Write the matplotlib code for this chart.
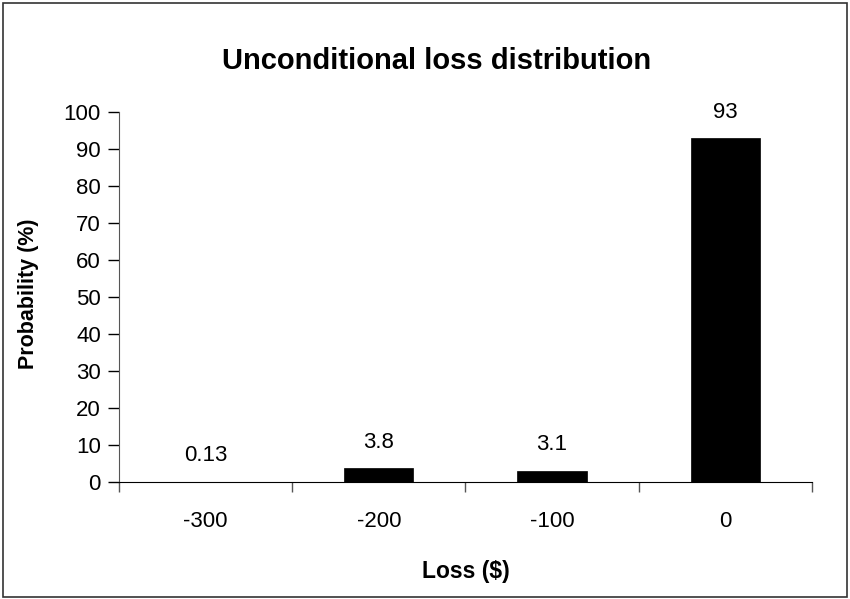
import matplotlib.pyplot as plt
from matplotlib.patches import Rectangle
import numpy as np

categories = ['-300', '-200', '-100', '0']
probabilities = [0.13, 3.8, 3.1, 93]
value_labels = ['0.13', '3.8', '3.1', '93']

plt.rcParams['font.family'] = ['Liberation Sans', 'DejaVu Sans']

fig = plt.figure(figsize=(8.5, 5.99), dpi=100)
ax = fig.add_axes([0.140, 0.1953, 0.815, 0.6177])

x = np.arange(len(categories))
ax.bar(x, probabilities, width=0.40, color='black', edgecolor='black', linewidth=0.5)

for xi, val, lab in zip(x, probabilities, value_labels):
    ax.annotate(lab, (xi, val), xytext=(0, 11), textcoords='offset points',
                ha='center', va='bottom', fontsize=16)

ax.set_xlim(-0.5, len(categories) - 0.5)
ax.set_ylim(0, 100)
ax.set_yticks(np.arange(0, 101, 10))
ax.set_xticks(x)
ax.set_xticklabels(categories)
ax.set_xticks(np.arange(-0.5, len(categories)), minor=True)
ax.tick_params(axis='x', which='major', length=0, pad=21, labelsize=16)
ax.tick_params(axis='x', which='minor', length=7, width=1, color='#555555')
ax.tick_params(axis='y', length=8, width=1, labelsize=16, pad=5)

for side in ('top', 'right'):
    ax.spines[side].set_visible(False)
ax.spines['left'].set_color('#555555')
ax.spines['bottom'].set_color('black')

ax.set_title('Unconditional loss distribution', fontsize=21, fontweight='bold',
             pad=31, x=0.459)
ax.set_xlabel('Loss ($)', fontsize=16.5, fontweight='bold', labelpad=20)
ax.set_ylabel('Probability (%)', fontsize=15.5, fontweight='bold')
ax.yaxis.set_label_coords(-0.115, 0.51)

fig.patches.append(Rectangle((0.004, 0.003), 0.992, 0.992, transform=fig.transFigure,
                             fill=False, edgecolor='#333333', linewidth=1.2))

fig.savefig('out.png', dpi=100)
